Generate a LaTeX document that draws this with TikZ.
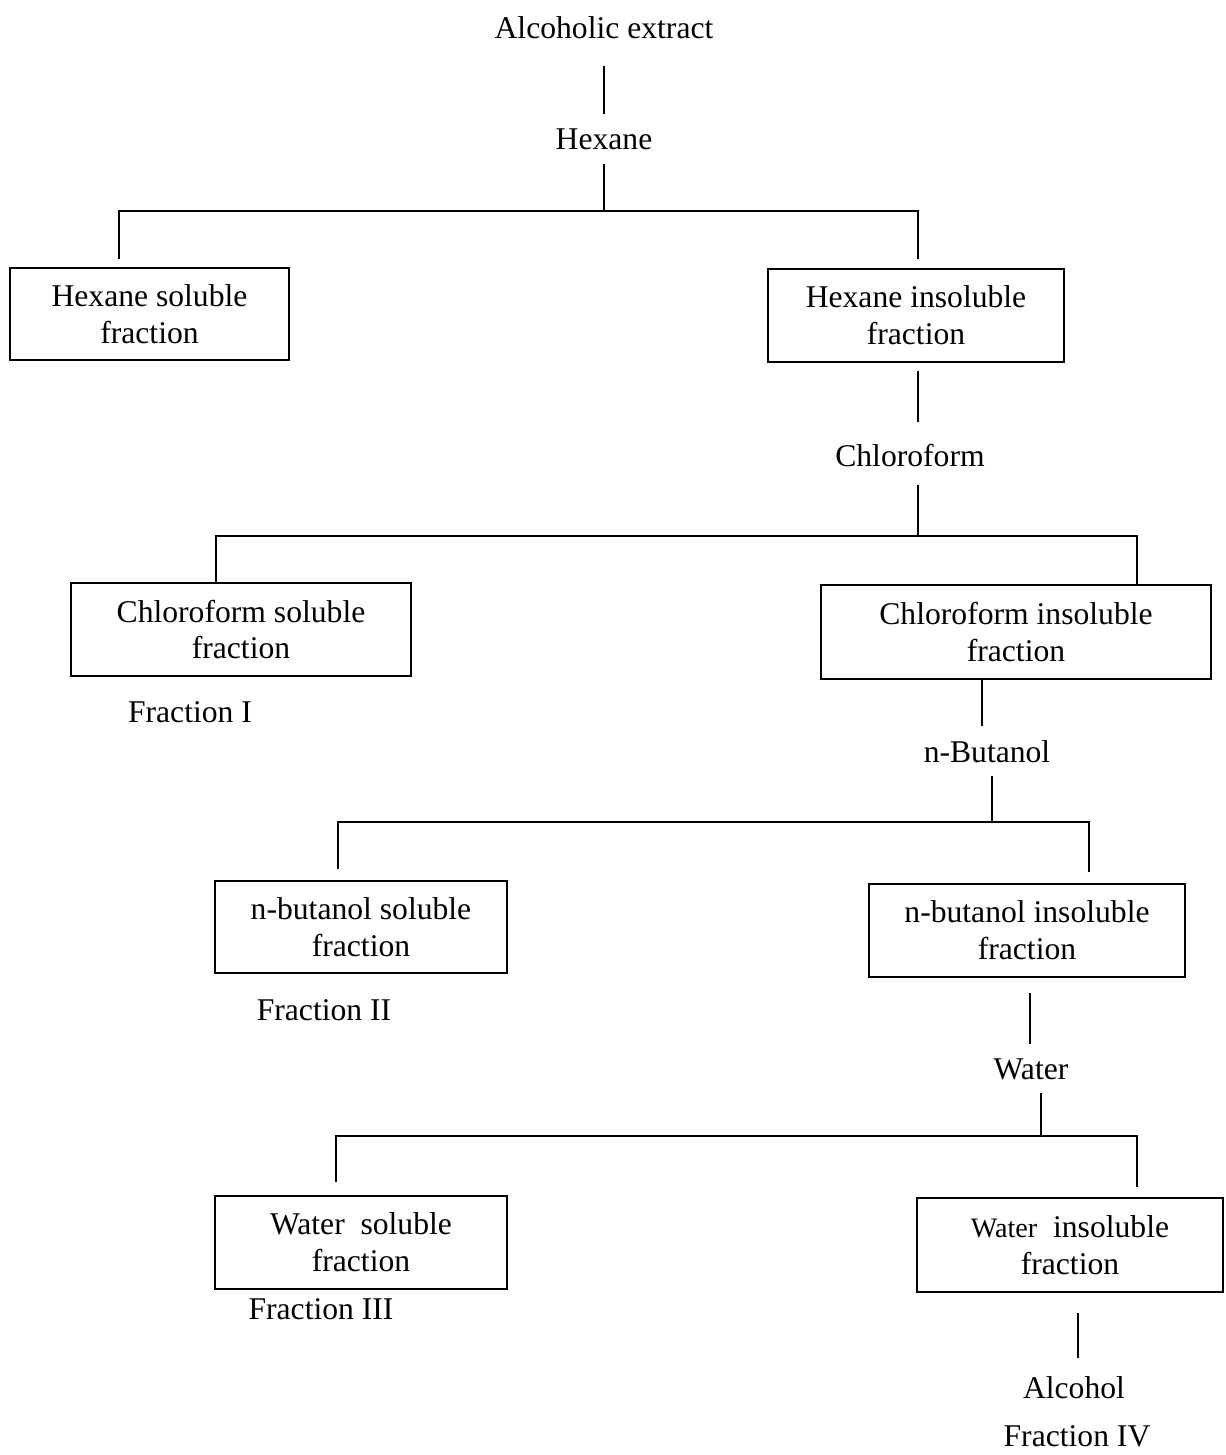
\documentclass[tikz,border=0pt]{standalone}
\usepackage{fontspec}
\setmainfont{Liberation Serif}
\usepackage{tikz}
\usetikzlibrary{positioning, calc}

\tikzset{
  fracbox/.style={draw, line width=1.1pt, align=center, inner sep=0pt,
    font=\fontsize{18}{21}\selectfont},
  solvent/.style={inner sep=0pt, text height=13pt, text depth=4pt, yshift=-0.6mm,
    font=\fontsize{18}{21}\selectfont},
  link/.style={line width=1.1pt}
}

\begin{document}
\begin{tikzpicture}[x=0.2mm, y=-0.2mm]
        \useasboundingbox (0,0) rectangle (1226,1455);

        % solvents
        \node[solvent] (alc) at (604,28) {Alcoholic extract};
        \node[solvent] (hex) at (604,139) {Hexane};
        \node[solvent] (chl) at (910,456) {Chloroform};
        \node[solvent] (nbu) at (987,752) {n-Butanol};
        \node[solvent] (wat) at (1031,1069) {Water};
        \node[solvent] (alcohol) at (1074,1388) {Alcohol};

        % fractions
        \node[fracbox, minimum width=55.8mm, minimum height=18.4mm] (hexsol) at (149.5,314) {Hexane soluble\\fraction};
        \node[fracbox, minimum width=59.2mm, minimum height=18.6mm] (hexins) at (916,315.5) {Hexane insoluble\\fraction};
        \node[fracbox, minimum width=68mm, minimum height=18.6mm] (chlsol) at (241,629.5) {Chloroform soluble\\fraction};
        \node[fracbox, minimum width=78mm, minimum height=18.8mm] (chlins) at (1016,632) {Chloroform insoluble\\fraction};
        \node[fracbox, minimum width=58.4mm, minimum height=18.4mm] (butsol) at (361,927) {n-butanol soluble\\fraction};
        \node[fracbox, minimum width=63.2mm, minimum height=18.6mm] (butins) at (1027,930.5) {n-butanol insoluble\\fraction};
        \node[fracbox, minimum width=58.4mm, minimum height=18.6mm] (watsol) at (361,1242.5) {Water\enspace soluble\\fraction};
        \node[fracbox, minimum width=61.2mm, minimum height=18.8mm] (watins) at (1070,1245) {{\fontsize{16}{21}\selectfont Water}\enspace insoluble\\fraction};

        % fraction labels
        \node[solvent] (fr1) at (190,712) {Fraction I};
        \node[solvent] (fr2) at (324,1010) {Fraction II};
        \node[solvent] (fr3) at (321,1309) {Fraction III};
        \node[solvent] (fr4) at (1077,1436) {Fraction IV};

        % split points
        \coordinate (hexsplit) at (604,211);
        \coordinate (chlsplit) at (918,536);
        \coordinate (nbusplit) at (992,822);
        \coordinate (watsplit) at (1041,1136);

        % hexane step
        \draw[link, shorten <=4mm, shorten >=2.6mm] (alc) -- (hex);
        \draw[link, shorten <=1.4mm] (hex) -- (hexsplit);
        \draw[link, shorten <=1.6mm, shorten >=1.8mm] ([xshift=-6.1mm]hexsol.north) |- (hexsplit) -| ([xshift=0.4mm]hexins.north);

        % chloroform step
        \draw[link, shorten <=1.6mm, shorten >=4.4mm] ([xshift=0.4mm]hexins.south) -- ([xshift=0.4mm]hexins.south |- chl.north);
        \draw[link, shorten <=2.2mm] (chl.south -| chlsplit) -- (chlsplit);
        \draw[link] ([xshift=-5mm]chlsol.north) |- (chlsplit) -| ([xshift=24.2mm]chlins.north);

        % n-butanol step
        \draw[link, shorten >=2.8mm] ([xshift=-6.8mm]chlins.south) -- ([xshift=-6.8mm]chlins.south |- nbu.north);
        \draw[link, shorten <=1.2mm] (nbu.south -| nbusplit) -- (nbusplit);
        \draw[link, shorten <=2.2mm, shorten >=2.2mm] ([xshift=-4.6mm]butsol.north) |- (nbusplit) -| ([xshift=12.4mm]butins.north);

        % water step
        \draw[link, shorten <=3mm, shorten >=2.6mm] ([xshift=0.6mm]butins.south) -- ([xshift=0.6mm]butins.south |- wat.north);
        \draw[link, shorten <=1.2mm] (wat.south -| watsplit) -- (watsplit);
        \draw[link, shorten <=2.6mm, shorten >=2mm] ([xshift=-5mm]watsol.north) |- (watsplit) -| ([xshift=13.4mm]watins.north);

        % alcohol step
        \draw[link, shorten <=4mm, shorten >=3.6mm] ([xshift=1.6mm]watins.south) -- ([xshift=1.6mm]watins.south |- alcohol.north);
    \end{tikzpicture}
\end{document}
